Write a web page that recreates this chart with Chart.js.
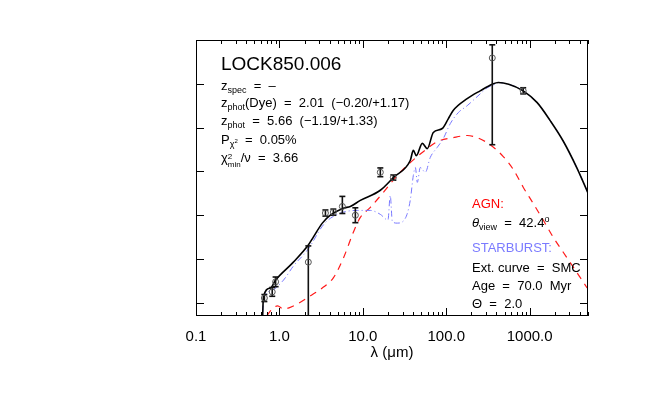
<!DOCTYPE html>
<html>
<head>
<meta charset="utf-8">
<script src="https://cdn.jsdelivr.net/npm/chart.js@4"></script>
<style>
  body { margin: 0; background: #fff; }
  #wrap { position: relative; width: 653px; height: 396px; }
  .note { position: absolute; font-family: "Liberation Sans", Arial, sans-serif; font-size: 13px; line-height: 1; white-space: pre; color: #000; }
  .sub { font-size: 9px; position: relative; top: 3px; }
  .sup { font-size: 9px; position: relative; top: -5px; }
  .stack { display: inline-block; vertical-align: -5px; font-size: 8px; line-height: 8px; }
  .stack span { display: block; }
</style>
</head>
<body>
<div id="wrap">
  <canvas id="sed" width="653" height="396"></canvas>

  <div class="note" style="left:221px; top:54px; font-size:19px;">LOCK850.006</div>
  <div class="note" style="left:221px; top:79px;">z<span class="sub">spec</span>  =  –</div>
  <div class="note" style="left:221px; top:96px;">z<span class="sub">phot</span>(Dye)  =  2.01  (−0.20/+1.17)</div>
  <div class="note" style="left:221px; top:114px;">z<span class="sub">phot</span>  =  5.66  (−1.19/+1.33)</div>
  <div class="note" style="left:221px; top:133px;">P<span class="sub">χ<span style="font-size:6px;position:relative;top:-4px">2</span></span>  =  0.05%</div>
  <div class="note" style="left:221px; top:151px;">χ<span class="stack"><span>2</span><span>min</span></span>/ν  =  3.66</div>

  <div class="note" style="left:472px; top:197px; color:#ff0000;">AGN:</div>
  <div class="note" style="left:472px; top:216px;"><i>θ</i><span class="sub">view</span>  =  42.4<span class="sup">o</span></div>
  <div class="note" style="left:472px; top:241px; color:#7b7bff;">STARBURST:</div>
  <div class="note" style="left:472px; top:261px;">Ext. curve  =  SMC</div>
  <div class="note" style="left:472px; top:279px;">Age  =  70.0  Myr</div>
  <div class="note" style="left:472px; top:297px;">Θ  =  2.0</div>
</div>

<script>
// wavelengths in micron, fluxes in dex (arbitrary zero point)
const xTicks = [0.1, 1, 10, 100, 1000];
const yTicks = [0, 1, 2, 3, 4, 5];

const totalLam  = [0.625, 0.643, 0.78, 0.90, 1.47, 2.22, 2.55, 3.27, 4.08, 5.84, 7.08, 9.33, 16.2, 23.2, 37.0, 40.3, 43.7, 51.6, 59.2, 69.9, 89.5, 105.6, 121, 178, 255, 356, 420, 560, 836, 1230, 1760, 2510, 3700, 5020];
const totalFlux = [-0.5, 0.14, 0.34, 0.52, 0.93, 1.32, 1.50, 1.82, 2.00, 2.16, 2.20, 2.34, 2.57, 2.86, 3.25, 3.48, 3.36, 3.64, 3.52, 3.89, 3.98, 4.20, 4.39, 4.66, 4.84, 4.99, 5.03, 4.99, 4.84, 4.57, 4.16, 3.70, 3.07, 2.50];

const sbLam  = [0.625, 0.643, 0.78, 1.12, 1.47, 2.22, 3.27, 4.08, 5.84, 8.59, 12.3, 16.2, 20.0, 21.3, 22.6, 25.9, 32.3, 37.0, 40.3, 42.6, 45.0, 48.8, 56.1, 64.3, 78.0, 92.1, 111.6, 139, 178, 255, 310, 386, 420, 560, 836, 1230, 1760, 2510, 3700, 5020];
const sbFlux = [-0.5, 0.07, 0.27, 0.52, 0.84, 1.23, 1.75, 1.93, 2.07, 2.11, 2.11, 2.02, 1.89, 2.45, 1.85, 1.82, 1.93, 2.34, 2.91, 3.09, 2.75, 3.09, 2.98, 3.32, 3.55, 3.75, 4.09, 4.34, 4.50, 4.77, 4.91, 4.99, 5.03, 4.99, 4.84, 4.57, 4.16, 3.70, 3.07, 2.50];

const agnLam  = [0.70, 0.82, 0.95, 1.12, 1.47, 2.35, 3.37, 4.43, 5.84, 7.69, 9.33, 12.3, 17.6, 25.9, 37.0, 53.0, 78, 121, 178, 235, 336, 482, 634, 836, 1102, 1452, 1910, 2512, 3320, 4880];
const agnFlux = [-0.3, -0.14, -0.07, -0.14, -0.07, 0.16, 0.36, 0.57, 1.02, 1.61, 1.95, 2.18, 2.52, 2.91, 3.20, 3.45, 3.68, 3.77, 3.82, 3.77, 3.61, 3.34, 3.05, 2.64, 2.27, 1.89, 1.50, 1.16, 0.82, 0.34];

const obsLam   = [0.66, 0.82, 0.90, 2.22, 3.56, 4.43, 5.68, 8.13, 16.2, 23.2, 356, 836];
const obsFlux  = [0.11, 0.25, 0.48, 0.93, 2.05, 2.07, 2.20, 2.00, 2.98, 2.86, 5.59, 4.84];
const obsErrLo = [0.08, 0.10, 0.11, 1.50, 0.07, 0.07, 0.16, 0.17, 0.10, 0.06, 1.98, 0.07];
const obsErrHi = [0.08, 0.10, 0.11, 0.37, 0.07, 0.07, 0.23, 0.17, 0.10, 0.06, 0.30, 0.07];

const pairs = (xs, ys) => xs.map((x, i) => ({ x: x, y: ys[i] }));

// error bars as one broken line: low, high, gap
const errBars = [];
obsLam.forEach((x, i) => {
    errBars.push({ x: x, y: obsFlux[i] - obsErrLo[i] });
    errBars.push({ x: x, y: obsFlux[i] + obsErrHi[i] });
    errBars.push({ x: x, y: null });
});

// frame with inward ticks, like the IDL plot
const frameTicks = {
    id: 'frameTicks',
    afterDraw(chart) {
        const { ctx, chartArea: a, scales: { x, y } } = chart;
        ctx.save();
        ctx.strokeStyle = '#000';
        ctx.lineWidth = 1;
        ctx.strokeRect(a.left + 0.5, a.top + 0.5, a.right - a.left - 1, a.bottom - a.top - 1);
        ctx.beginPath();
        for (let d = -1; d <= 3; d++) {
            for (let m = 1; m <= 9; m++) {
                const v = m * Math.pow(10, d);
                if (v > x.max) break;
                const px = Math.round(x.getPixelForValue(v)) + 0.5;
                const len = m === 1 ? 8 : 4;
                ctx.moveTo(px, a.bottom); ctx.lineTo(px, a.bottom - len);
                ctx.moveTo(px, a.top); ctx.lineTo(px, a.top + len);
            }
        }
        yTicks.forEach(v => {
            const py = Math.round(y.getPixelForValue(v)) + 0.5;
            ctx.moveTo(a.left, py); ctx.lineTo(a.left + 8, py);
            ctx.moveTo(a.right, py); ctx.lineTo(a.right - 8, py);
        });
        ctx.stroke();
        ctx.restore();
    }
};

new Chart(document.getElementById('sed'), {
    type: 'scatter',
    data: {
        datasets: [
            {
                label: 'photometry',
                data: pairs(obsLam, obsFlux),
                pointStyle: 'circle',
                pointRadius: 3,
                pointBorderWidth: 1,
                pointBorderColor: '#555',
                pointBackgroundColor: 'rgba(0,0,0,0)',
                order: 0
            },
            {
                label: 'errors',
                data: errBars,
                showLine: true,
                spanGaps: false,
                borderColor: '#111',
                borderWidth: 1.6,
                pointStyle: 'line',
                pointRadius: 3,
                pointBorderWidth: 1.6,
                pointBorderColor: '#111',
                order: 1
            },
            {
                label: 'total',
                data: pairs(totalLam, totalFlux),
                showLine: true,
                borderColor: '#000',
                borderWidth: 1.6,
                pointRadius: 0,
                cubicInterpolationMode: 'monotone',
                order: 2
            },
            {
                label: 'starburst',
                data: pairs(sbLam, sbFlux),
                showLine: true,
                borderColor: '#7878ff',
                borderWidth: 1,
                borderDash: [6, 3, 1, 3],
                pointRadius: 0,
                cubicInterpolationMode: 'monotone',
                order: 3
            },
            {
                label: 'AGN',
                data: pairs(agnLam, agnFlux),
                showLine: true,
                borderColor: '#ff1a1a',
                borderWidth: 1.2,
                borderDash: [7, 6],
                pointRadius: 0,
                cubicInterpolationMode: 'monotone',
                order: 4
            }
        ]
    },
    options: {
        responsive: false,
        animation: false,
        layout: { padding: { left: 196, right: 65, top: 40, bottom: 0 } },
        plugins: {
            legend: { display: false },
            tooltip: { enabled: false }
        },
        scales: {
            x: {
                type: 'logarithmic',
                min: 0.1,
                max: 5000,
                grid: { display: false, drawTicks: false },
                border: { display: false },
                afterBuildTicks: (scale) => {
                    scale.ticks = xTicks.map(v => ({ value: v }));
                },
                afterFit: (scale) => { scale.height = 80; },
                ticks: {
                    autoSkip: false,
                    maxRotation: 0,
                    padding: 12,
                    color: '#000',
                    font: { family: 'Liberation Sans', size: 15 },
                    callback: (v) => (v < 1 ? '0.1' : Number(v).toFixed(1))
                },
                title: {
                    display: true,
                    text: 'λ (μm)',
                    color: '#000',
                    font: { family: 'Liberation Sans', size: 15 },
                    padding: { top: 0, bottom: 34 }
                }
            },
            y: {
                display: false,
                min: -0.3,
                max: 6
            }
        }
    },
    plugins: [frameTicks]
});
</script>
</body>
</html>
